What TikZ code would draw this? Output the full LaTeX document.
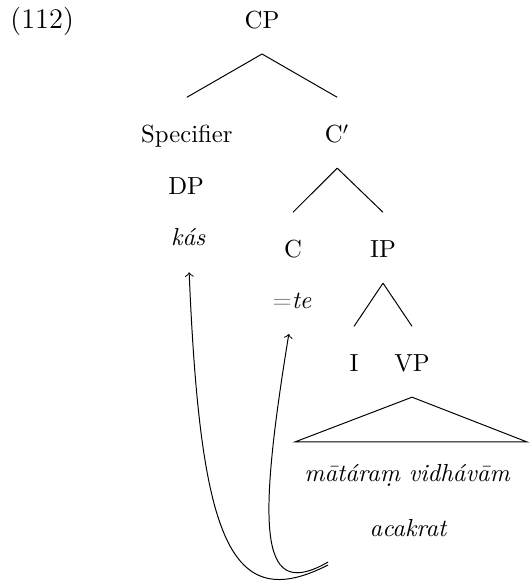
\documentclass[tikz,border=0pt]{standalone}
\usepackage{amsmath}
\usepackage{amssymb}

\begin{document}
\begin{tikzpicture}
	\tikzstyle{cat} = [anchor=base, inner sep=0pt, text height=7pt, text depth=2pt];
	\tikzstyle{word} = [cat, font=\itshape];
	\useasboundingbox (0,0) rectangle (7.53,8.27);

	\node[anchor=base, font=\fontsize{11.5pt}{14pt}\selectfont] at (0.6, 7.86) (ex) {(112)};

	\node[cat] at (3.73, 7.86) (cp) {CP};
		\node[cat] at (2.66, 6.235) (spec) {Specifier};
		\node[cat] at (4.80, 6.235) (cbar) {C$'$};

	\node[cat] at (2.65, 5.495) (dp) {DP};
		\node[word] at (2.68, 4.77) (kas) {k\'as};

	\node[cat] at (4.17, 4.598) (c) {C};
		\node[cat] at (4.157, 3.872) (te) {\textcolor{gray}{=}\textit{te}};
	\node[cat] at (5.452, 4.598) (ip) {IP};

	\node[cat] at (5.04, 2.975) (i) {I};
	\node[cat] at (5.865, 2.975) (vp) {VP};

	\node[word] at (5.794, 1.41) (mat) {m\=at\'ara\d{m} vidh\'av\=am};
	\node[word] at (5.808, 0.64) (acak) {acakrat};

	% branches
	\draw ([yshift=-8pt]cp.south) -- ([yshift=11.3pt]spec.north);
	\draw ([yshift=-8pt]cp.south) -- ([yshift=11.3pt]cbar.north);

	\draw ([yshift=-8pt]cbar.south) -- ([yshift=11.3pt]c.north);
	\draw ([yshift=-8pt]cbar.south) -- ([yshift=11.3pt]ip.north);

	\draw ([yshift=-8pt]ip.south) -- ([yshift=11.3pt]i.north);
	\draw ([yshift=-8pt]ip.south) -- ([yshift=11.3pt]vp.north);

	% triangle over the VP
	\draw ([yshift=-8pt]vp.south) -- ([xshift=-3.6pt,yshift=9pt]mat.north west) -- ([xshift=6.8pt,yshift=9pt]mat.north east) -- cycle;

	% movement
	\coordinate (tk) at (4.67, 0.228);
	\coordinate (tt) at (4.67, 0.27);
	\draw[->, shorten >=8.5pt] (tk) .. controls +(-1.395, -0.712) and +(0.171, -4.114) .. (kas.south);
	\draw[->, shorten >=8pt] (tt) .. controls +(-0.94, -0.54) and +(-0.527, -3.217) .. (te.south);

\end{tikzpicture}
\end{document}
